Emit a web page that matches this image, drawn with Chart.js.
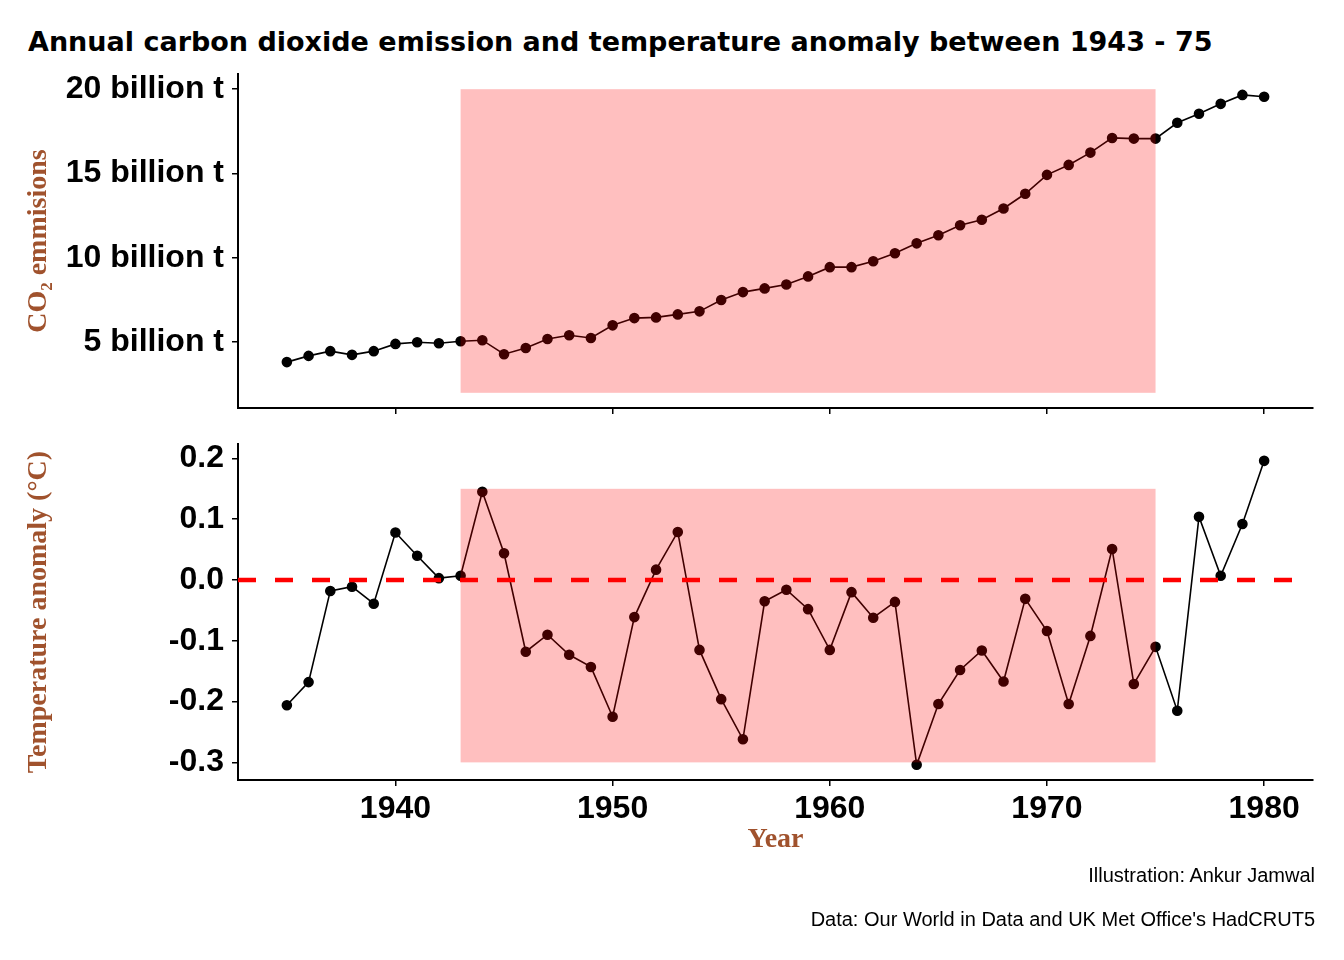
<!DOCTYPE html>
<html>
<head>
<meta charset="utf-8">
<script src="https://cdn.jsdelivr.net/npm/chart.js@4.4.1/dist/chart.umd.min.js"></script>
<style>
  body { margin: 0; background: #fff; width: 1344px; height: 960px; position: relative; overflow: hidden; }
  #title { position: absolute; left: 28px; top: 26px; font: bold 27px 'DejaVu Sans', sans-serif; color: #000; white-space: nowrap; }
  .cap { position: absolute; right: 29px; font: 20px 'Liberation Sans', Arial, sans-serif; color: #000; white-space: nowrap; }
  #co2Box { position: absolute; left: 0; top: 0; width: 1344px; height: 420px; }
  #tempBox { position: absolute; left: 0; top: 420px; width: 1344px; height: 540px; }
</style>
</head>
<body>
<div id="title">Annual carbon dioxide emission and temperature anomaly between 1943 - 75</div>
<div id="co2Box"><canvas id="co2Chart"></canvas></div>
<div id="tempBox"><canvas id="tempChart"></canvas></div>
<div class="cap" style="top:864px">Illustration: Ankur Jamwal</div>
<div class="cap" style="top:908px">Data: Our World in Data and UK Met Office's HadCRUT5</div>
<script>
const years = [1935,1936,1937,1938,1939,1940,1941,1942,1943,1944,
               1945,1946,1947,1948,1949,1950,1951,1952,1953,1954,
               1955,1956,1957,1958,1959,1960,1961,1962,1963,1964,
               1965,1966,1967,1968,1969,1970,1971,1972,1973,1974,
               1975,1976,1977,1978,1979,1980];

// billions of tonnes
const co2Billions = [3.82,4.19,4.47,4.25,4.47,4.90,5.00,4.94,5.06,5.12,
                     4.29,4.66,5.19,5.41,5.25,6.00,6.43,6.47,6.65,6.83,
                     7.50,7.97,8.19,8.42,8.90,9.45,9.45,9.80,10.27,10.86,
                     11.34,11.93,12.26,12.93,13.80,14.92,15.51,16.24,17.11,17.07,
                     17.07,18.01,18.54,19.13,19.66,19.55];

// degrees C
const tempAnomaly = [-0.206,-0.168,-0.018,-0.011,-0.039,0.078,0.040,0.003,0.007,0.145,
                     0.044,-0.118,-0.090,-0.123,-0.143,-0.225,-0.061,0.017,0.079,-0.115,
                     -0.196,-0.262,-0.035,-0.016,-0.048,-0.115,-0.020,-0.062,-0.036,-0.304,
                     -0.204,-0.148,-0.116,-0.167,-0.031,-0.084,-0.204,-0.092,0.051,-0.171,
                     -0.110,-0.215,0.104,0.007,0.092,0.196];

const xTicks = [1940, 1950, 1960, 1970, 1980];
const co2Ticks = [5, 10, 15, 20];
const tempTicks = [-0.3, -0.2, -0.1, 0.0, 0.1, 0.2];

const highlightYears = [1943, 1975];
const co2Band = [2, 20];
const tempBand = [-0.3, 0.15];

const xRange = [1932.75, 1982.25];
const co2Range = [1.1, 20.9];
const tempRange = [-0.329, 0.2237];

const tickFont = { family: "'Liberation Sans', Arial, sans-serif", size: 32, weight: 'bold' };
const titleFont = { family: "'Liberation Serif', 'Times New Roman', serif", size: 28, weight: 'bold', lineHeight: 1.2 };
const brown = '#A0522D';

// pink highlight band drawn over the series, then the zero line on top
const bandPlugin = {
    id: 'band',
    afterDatasetsDraw(chart, args, opts) {
        const { ctx, chartArea, scales: { x, y } } = chart;
        const x0 = x.getPixelForValue(highlightYears[0]);
        const x1 = x.getPixelForValue(highlightYears[1]);
        const y0 = y.getPixelForValue(opts.range[1]);
        const y1 = y.getPixelForValue(opts.range[0]);
        ctx.save();
        ctx.fillStyle = 'rgba(255,0,0,0.25)';
        ctx.fillRect(x0, y0, x1 - x0, y1 - y0);
        if (opts.zeroLine) {
            const yz = y.getPixelForValue(0);
            ctx.strokeStyle = '#ff0000';
            ctx.lineWidth = 4.5;
            ctx.setLineDash([18, 19]);
            ctx.beginPath();
            ctx.moveTo(chartArea.left, yz);
            ctx.lineTo(chartArea.right - 12, yz);
            ctx.stroke();
        }
        ctx.restore();
    }
};

function xScale(showLabels) {
    return {
        type: 'linear',
        min: xRange[0],
        max: xRange[1],
        afterBuildTicks: s => { s.ticks = xTicks.map(v => ({ value: v })); },
        afterFit: s => {
            s.height = showLabels ? 80 : 12;
            s.paddingLeft = 0;
            s.paddingRight = 0;
        },
        ticks: { display: showLabels, font: tickFont, color: '#000', padding: 4, callback: v => String(v) },
        grid: { drawOnChartArea: false, drawTicks: true, tickLength: 6, color: '#000', lineWidth: 1.5 },
        border: { display: true, color: '#000', width: 2 },
        title: { display: showLabels, text: 'Year', color: brown, font: titleFont, padding: { top: 0, bottom: 3 } }
    };
}

function yScale(range, ticks, fmt, title) {
    return {
        type: 'linear',
        min: range[0],
        max: range[1],
        afterBuildTicks: s => { s.ticks = ticks.map(v => ({ value: v })); },
        afterFit: s => {
            s.width = 238;
            s.paddingTop = 0;
            s.paddingBottom = 0;
        },
        ticks: { font: tickFont, color: '#000', padding: 8, callback: fmt },
        grid: { drawOnChartArea: false, drawTicks: true, tickLength: 6, color: '#000', lineWidth: 1.5 },
        border: { display: true, color: '#000', width: 2 },
        title: { display: true, text: title, color: brown, font: titleFont, padding: { top: 22, bottom: 0 } }
    };
}

function series(values) {
    return {
        data: years.map((yr, i) => ({ x: yr, y: values[i] })),
        borderColor: '#000',
        backgroundColor: '#000',
        borderWidth: 1.6,
        pointRadius: 4.5,
        pointHoverRadius: 4.5,
        tension: 0,
        fill: false
    };
}

const common = {
    responsive: true,
    maintainAspectRatio: false,
    animation: false,
    events: [],
    plugins: { legend: { display: false }, tooltip: { enabled: false } }
};

new Chart(document.getElementById('co2Chart'), {
    type: 'line',
    data: { datasets: [series(co2Billions)] },
    plugins: [bandPlugin],
    options: {
        ...common,
        layout: { padding: { top: 74, right: 31, bottom: 0, left: 0 } },
        plugins: { ...common.plugins, band: { range: co2Band, zeroLine: false } },
        scales: {
            x: xScale(false),
            y: yScale(co2Range, co2Ticks, v => v + ' billion t', 'CO\u2082 emmisions')
        }
    }
});

new Chart(document.getElementById('tempChart'), {
    type: 'line',
    data: { datasets: [series(tempAnomaly)] },
    plugins: [bandPlugin],
    options: {
        ...common,
        layout: { padding: { top: 24, right: 31, bottom: 100, left: 0 } },
        plugins: { ...common.plugins, band: { range: tempBand, zeroLine: true } },
        scales: {
            x: xScale(true),
            y: yScale(tempRange, tempTicks, v => v.toFixed(1), 'Temperature anomaly (\u00B0C)')
        }
    }
});
</script>
</body>
</html>
